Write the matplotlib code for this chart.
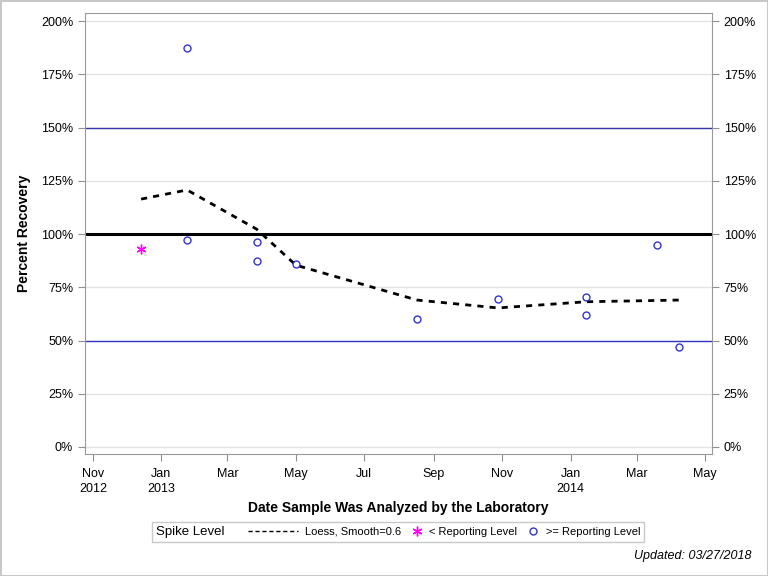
import datetime as dt
import matplotlib
matplotlib.use("Agg")
import matplotlib.pyplot as plt
from matplotlib.lines import Line2D
from matplotlib.legend_handler import HandlerLine2D
from matplotlib.offsetbox import HPacker

plt.rcParams['font.family'] = ['Liberation Sans', 'DejaVu Sans']

# samples below reporting level
low_dates = [dt.date(2012, 12, 14)]
low_values = [93.0]

# samples at or above reporting level
hi_dates = [dt.date(2013, 1, 24), dt.date(2013, 1, 24), dt.date(2013, 3, 27),
            dt.date(2013, 3, 27), dt.date(2013, 5, 1), dt.date(2013, 8, 17),
            dt.date(2013, 10, 28), dt.date(2014, 1, 15), dt.date(2014, 1, 15),
            dt.date(2014, 3, 19), dt.date(2014, 4, 8)]
hi_values = [187.3, 97.2, 96.2, 87.3, 85.9, 60.1, 69.5, 70.4, 62.0, 94.8, 47.0]

# loess fit
loess_dates = [dt.date(2012, 12, 14), dt.date(2013, 1, 24), dt.date(2013, 3, 27),
               dt.date(2013, 5, 1), dt.date(2013, 8, 17), dt.date(2013, 10, 28),
               dt.date(2014, 1, 15), dt.date(2014, 3, 19), dt.date(2014, 4, 8)]
loess_values = [116.4, 120.7, 102.3, 85.4, 69.0, 65.3, 68.2, 68.8, 69.0]

ref_lines = [50, 100, 150]
yticks = [0, 25, 50, 75, 100, 125, 150, 175, 200]
tick_dates = [dt.date(2012, 11, 1), dt.date(2013, 1, 1), dt.date(2013, 3, 1),
              dt.date(2013, 5, 1), dt.date(2013, 7, 1), dt.date(2013, 9, 1),
              dt.date(2013, 11, 1), dt.date(2014, 1, 1), dt.date(2014, 3, 1),
              dt.date(2014, 5, 1)]
tick_labels = ['Nov\n2012', 'Jan\n2013', 'Mar', 'May', 'Jul', 'Sep', 'Nov',
               'Jan\n2014', 'Mar', 'May']


class LongLine(HandlerLine2D):
    # stretch the dashed sample to the left, past the normal handle box
    extra = 28

    def create_artists(self, legend, orig_handle, xdescent, ydescent, width,
                       height, fontsize, trans):
        return super().create_artists(legend, orig_handle, xdescent + self.extra,
                                      ydescent, width + self.extra, height,
                                      fontsize, trans)


fig = plt.figure(figsize=(7.68, 5.76), dpi=100)
fig.patch.set_edgecolor('#c8c8c8')
fig.patch.set_linewidth(2)
ax = fig.add_axes([85 / 768, 1 - 454 / 576, 627 / 768, 441 / 576])

for y in yticks:
    ax.axhline(y, color='#e4e4e4', lw=1, zorder=0)
ax.axhline(ref_lines[1], color='black', lw=2.2, zorder=1)
ax.axhline(ref_lines[0], color='#3636c0', lw=1, zorder=1)
ax.axhline(ref_lines[2], color='#3636a8', lw=1, zorder=1)

ax.plot(loess_dates, loess_values, color='black', lw=2, ls=(0, (2.2, 2.2)), zorder=3)
ax.plot(low_dates, low_values, ls='none', marker=(6, 2, 0), ms=7,
        color='#ff00ff', mew=1, zorder=4)
ax.plot(hi_dates, hi_values, ls='none', marker='o', ms=5, mfc='none',
        mec='#3333cc', mew=1, zorder=4)

ax.set_ylim(-3.3, 203.8)
ax.set_xlim(dt.date(2012, 10, 25), dt.date(2014, 5, 7))
ax.set_yticks(yticks)
ax.set_yticklabels([f'{v}%' for v in yticks])
ax.set_xticks(tick_dates)
ax.set_xticklabels(tick_labels, linespacing=1.35)
ax.tick_params(axis='both', labelsize=9, color='#909090', length=5)
ax.tick_params(axis='x', pad=5)
ax.tick_params(axis='y', right=True, labelright=True)
for s in ax.spines.values():
    s.set_color('#999999')

ax.set_xlabel('Date Sample Was Analyzed by the Laboratory', fontsize=10,
              fontweight='bold', labelpad=4)
ax.set_ylabel('Percent Recovery', fontsize=10, fontweight='bold', labelpad=7)

loess_h = Line2D([], [], color='black', lw=1, ls=(0, (3, 2)))
handles = [loess_h,
           Line2D([], [], ls='none', marker=(6, 2, 0), ms=7, color='#ff00ff'),
           Line2D([], [], ls='none', marker='o', ms=5, mfc='none', mec='#3333cc')]
labels = ['Loess, Smooth=0.6', '< Reporting Level', '>= Reporting Level']
leg = fig.legend(handles, labels, loc='center', bbox_to_anchor=(398 / 768, 1 - 532 / 576),
                 ncol=3, fontsize=8, frameon=True, fancybox=False,
                 handlelength=1.0, handletextpad=0.6, columnspacing=0.95,
                 borderpad=0.35, edgecolor='#bbbbbb', title='Spike Level',
                 title_fontsize=9.5, handler_map={loess_h: LongLine()})
leg.get_frame().set_linewidth(1)

# put the title to the left of the entries, like the original
old = leg._legend_box
leg._legend_box = HPacker(pad=old.pad, sep=45, align='center',
                          children=[leg._legend_title_box, leg._legend_handle_box])
leg._legend_box.set_figure(fig)
leg._legend_box.set_offset(leg._findoffset)

fig.text(752 / 768, 1 - 556 / 576, 'Updated: 03/27/2018', ha='right', va='center',
         fontsize=9, style='italic')

fig.savefig('out.png', dpi=100, edgecolor=fig.get_edgecolor())
